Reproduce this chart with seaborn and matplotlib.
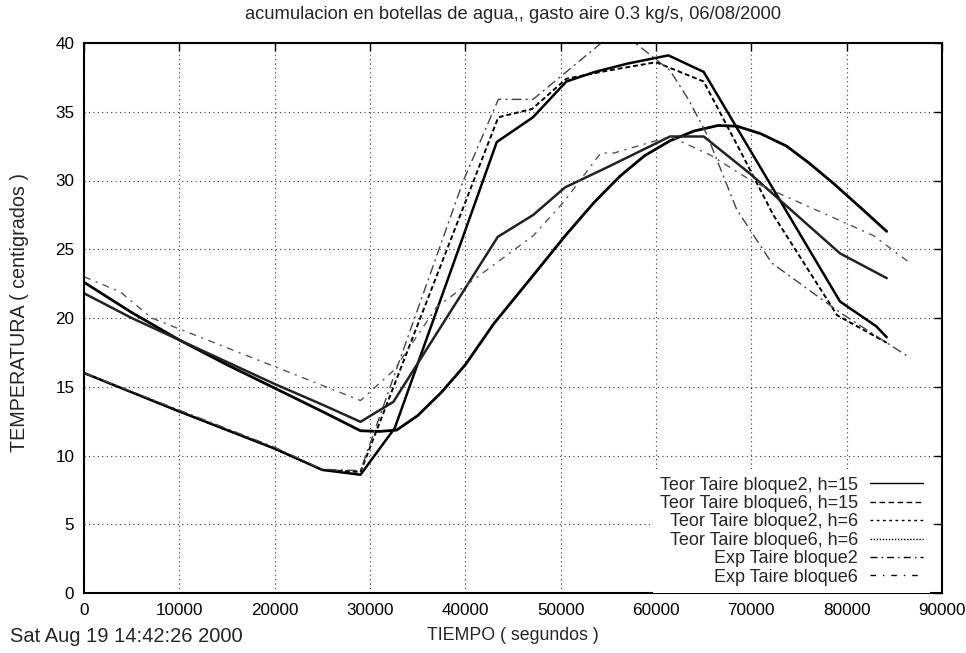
import matplotlib
matplotlib.use('Agg')
import matplotlib.pyplot as plt
import seaborn as sns
from matplotlib.lines import Line2D

sns.set_theme(style='white')
plt.rcParams['font.family'] = ['Liberation Sans', 'DejaVu Sans']
plt.rcParams['axes.unicode_minus'] = False

# --- datos (tiempo en s, temperatura en C) ---
t_b2_h15 = [0, 10000, 20000, 25000, 29000, 32600, 43300, 47100, 50600, 53600, 57000, 61300, 65000, 79300, 83100, 84200]
T_b2_h15 = [16.0, 13.2, 10.5, 8.95, 8.6, 12.0, 32.8, 34.6, 37.2, 37.9, 38.5, 39.1, 37.9, 21.2, 19.4, 18.6]

t_b6_h15 = [0, 5000, 10000, 15000, 20000, 25000, 29000, 31000, 32800, 35000, 37500, 40000, 43000, 47000, 50500,
            53500, 56200, 58800, 61500, 64000, 66500, 68500, 71000, 73700, 76000, 78600, 81500, 84200]
T_b6_h15 = [22.6, 20.4, 18.4, 16.6, 14.9, 13.2, 11.8, 11.75, 11.85, 12.9, 14.6, 16.6, 19.6, 23.0, 26.0,
            28.4, 30.3, 31.8, 32.9, 33.6, 34.0, 33.95, 33.4, 32.5, 31.3, 29.8, 28.0, 26.3]

t_b2_h6 = [0, 10000, 20000, 25000, 29000, 43460, 47000, 50600, 55000, 60000, 65000, 68800, 72300, 79000, 84200]
T_b2_h6 = [16.0, 13.2, 10.5, 8.95, 8.8, 34.6, 35.2, 37.4, 38.0, 38.6, 37.2, 32.2, 27.5, 20.2, 18.2]

t_b6_h6 = [0, 5000, 10000, 15000, 20000, 25000, 29000, 32450, 43400, 47130, 50460, 55000, 61470, 65000, 69860, 79300, 84200]
T_b6_h6 = [21.8, 20.0, 18.4, 16.8, 15.2, 13.7, 12.45, 13.9, 25.9, 27.5, 29.5, 31.0, 33.2, 33.2, 30.5, 24.7, 22.9]

t_exp_b2 = [0, 10000, 20000, 25000, 29000, 39800, 43460, 47100, 56000, 61470, 63400, 65300, 68460, 72140, 79300, 86650]
T_exp_b2 = [16.0, 13.3, 10.6, 9.0, 8.9, 30.0, 35.9, 35.9, 41.0, 38.0, 35.9, 33.4, 27.9, 24.0, 20.4, 17.1]

t_exp_b6 = [0, 3800, 7100, 29000, 32500, 37000, 47150, 50400, 54200, 55600, 61500, 65700, 70200, 82800, 86650]
T_exp_b6 = [23.0, 21.9, 20.0, 14.0, 16.2, 20.8, 26.0, 28.5, 32.0, 32.0, 33.2, 31.85, 29.9, 26.0, 24.0]

labels = ['Teor Taire bloque2, h=15', 'Teor Taire bloque6, h=15', 'Teor Taire bloque2, h=6',
          'Teor Taire bloque6, h=6', 'Exp Taire bloque2', 'Exp Taire bloque6']

fig = plt.figure(figsize=(9.66, 6.53), dpi=100)
ax = fig.add_axes([84 / 966, 1 - 593 / 653, (942 - 84) / 966, (593 - 43) / 653])

# curvas (como se ven en la grafica)
series = [
    (t_b2_h15, T_b2_h15, dict(color='black', lw=1.8, ls='-')),
    (t_b6_h15, T_b6_h15, dict(color='black', lw=2.0, ls='-')),
    (t_b2_h6, T_b2_h6, dict(color='black', lw=1.4, ls=(0, (2.5, 1.5)))),
    (t_b6_h6, T_b6_h6, dict(color='#222222', lw=1.8, ls='-')),
    (t_exp_b2, T_exp_b2, dict(color='#444444', lw=1.0, ls=(0, (7, 3, 1.5, 3)))),
    (t_exp_b6, T_exp_b6, dict(color='#555555', lw=1.0, ls=(0, (5, 4, 1.5, 4)))),
]
for x, y, st in series:
    sns.lineplot(x=x, y=y, ax=ax, sort=False, estimator=None, legend=False, **st)

ax.set_xlim(0, 90000)
ax.set_ylim(0, 40)
ax.set_xticks(range(0, 90001, 10000))
ax.set_yticks(range(0, 41, 5))
ax.grid(True, color='#333333', linestyle=(0, (1, 3)), linewidth=0.8)
for s in ax.spines.values():
    s.set_color('black')
    s.set_linewidth(1.5)
ax.tick_params(direction='in', length=6, width=1, top=True, right=True,
               labelsize=12.3, colors='black', pad=7)

ax.set_title('acumulacion en botellas de agua,, gasto aire 0.3 kg/s, 06/08/2000', fontsize=13.2, pad=17)
ax.set_xlabel('TIEMPO ( segundos )', fontsize=12.8)
ax.set_ylabel('TEMPERATURA ( centigrados )', fontsize=14.2)
ax.xaxis.set_label_coords(0.5, -(636 - 593) / 550)
ax.xaxis.label.set_va('center')
ax.yaxis.set_label_coords((20 - 84) / 858, 0.51)
ax.yaxis.label.set_va('center')
fig.text(10 / 966, 1 - 636 / 653, 'Sat Aug 19 14:42:26 2000', fontsize=14.5, ha='left', va='center')

# leyenda con los estilos de muestra
leg_styles = [
    dict(color='black', lw=1.0, ls='-'),
    dict(color='black', lw=1.0, ls=(0, (4, 2.5))),
    dict(color='black', lw=1.0, ls=(0, (2, 2.5))),
    dict(color='black', lw=1.0, ls=(0, (1, 1.2))),
    dict(color='black', lw=1.0, ls=(0, (5, 3, 1, 3))),
    dict(color='black', lw=1.0, ls=(0, (4, 5, 1, 5))),
]
handles = [Line2D([], [], **st) for st in leg_styles]
ax.legend(handles, labels, loc='lower right', bbox_to_anchor=(1 - 12 / 858, 0.0), markerfirst=False,
          fontsize=13, frameon=True, facecolor='white', edgecolor='none', framealpha=1,
          fancybox=False, handlelength=2.93, handletextpad=0.66, labelspacing=0.08,
          borderpad=0.4, borderaxespad=0.0)

fig.savefig('out.png', dpi=100)
